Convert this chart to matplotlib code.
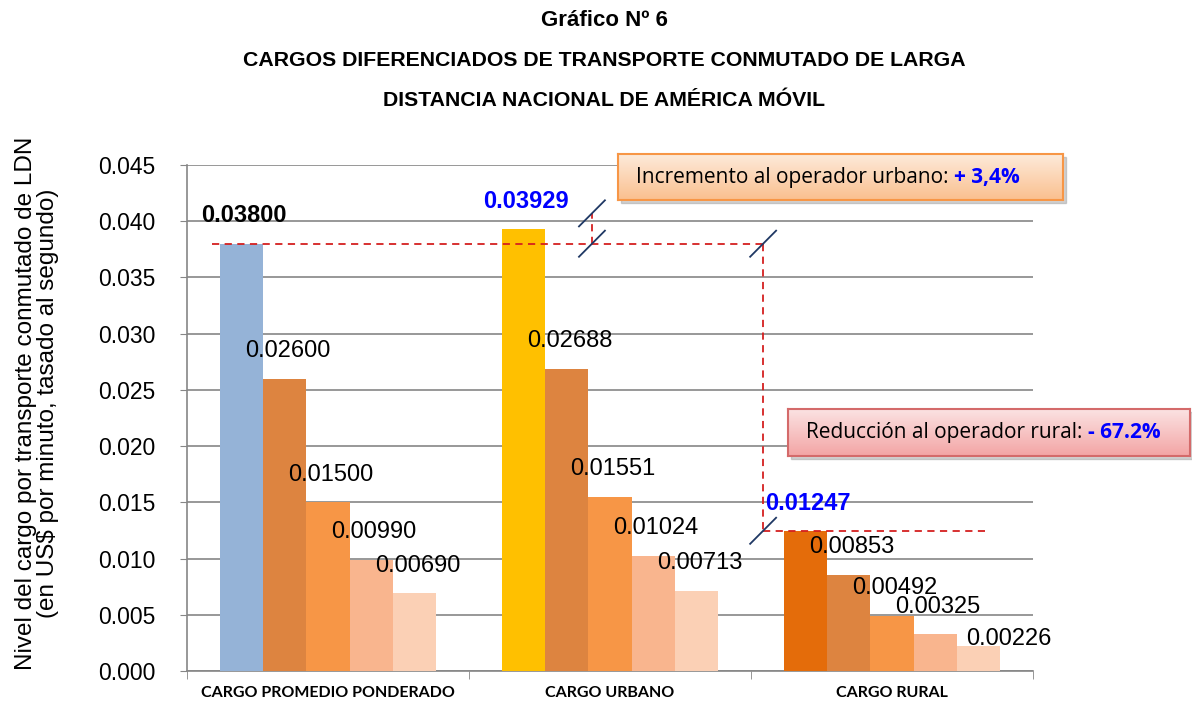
import numpy as np
import matplotlib.pyplot as plt
from matplotlib.patches import Rectangle

# datos
categorias = ['CARGO PROMEDIO PONDERADO', 'CARGO URBANO', 'CARGO RURAL']
promedio = [0.03800, 0.02600, 0.01500, 0.00990, 0.00690]
urbano = [0.03929, 0.02688, 0.01551, 0.01024, 0.00713]
rural = [0.01247, 0.00853, 0.00492, 0.00325, 0.00226]
series = [promedio, urbano, rural]
etiquetas = [['0.03800', '0.02600', '0.01500', '0.00990', '0.00690'],
             ['0.03929', '0.02688', '0.01551', '0.01024', '0.00713'],
             ['0.01247', '0.00853', '0.00492', '0.00325', '0.00226']]
y_ticks = [0.000, 0.005, 0.010, 0.015, 0.020, 0.025, 0.030, 0.035, 0.040, 0.045]

primer_color = ['#95B3D7', '#FFC000', '#E46C0A']
resto_colores = ['#DD8440', '#F79646', '#F9B58E', '#FBD0B5']

W, H = 1192, 704
fig = plt.figure(figsize=(W / 100, H / 100), dpi=100)
ax = fig.add_axes([187 / W, 1 - 671 / H, 846 / W, 506 / H])

ancho = 0.1535
for i, vals in enumerate(series):
    for j, v in enumerate(vals):
        x = i + (j - 2) * ancho
        c = primer_color[i] if j == 0 else resto_colores[j - 1]
        ax.bar(x, v, width=ancho, color=c, zorder=3)
        if j == 0 and i == 0:
            kw = dict(color='black', fontweight='bold')
        elif j == 0:
            kw = dict(color='#0000FF', fontweight='bold')
        else:
            kw = dict(color='black')
        off = (2, 20)
        if i == 2 and j == 4:
            off = (22, 5)  # Excel la desplaza para no pisar la anterior
        ax.annotate(etiquetas[i][j], (x, v), xytext=off, textcoords='offset points',
                    ha='center', va='center', fontsize=17, family='Liberation Sans', zorder=5, **kw)

ax.set_xlim(-0.5, 2.5)
ax.set_ylim(0, 0.045)
ax.set_yticks(y_ticks)
ax.set_yticklabels([f'{t:.3f}' for t in y_ticks], fontsize=16.5, family='Liberation Sans')
ax.yaxis.grid(True, color='#868686', lw=1.2, zorder=0)
ax.set_xticks([0, 1, 2])
ax.set_xticklabels(categorias, fontsize=11.5, fontweight='bold', family='Lato')
ax.set_xticks([-0.5, 0.5, 1.5, 2.5], minor=True)
ax.tick_params(axis='x', which='major', length=0, pad=11)
ax.tick_params(axis='x', which='minor', length=6, color='#868686')
ax.tick_params(axis='y', length=5, color='#868686', pad=18)
for s in ['top', 'right']:
    ax.spines[s].set_visible(False)
for s in ['left', 'bottom']:
    ax.spines[s].set_color('#868686')
    ax.spines[s].set_linewidth(1.2)

# lineas de referencia
rojo = '#D42020'
dash = dict(color=rojo, lw=1.3, ls=(0, (4, 3)), zorder=6)
ref = promedio[0]
ax.plot([-0.41, 1.543], [ref, ref], **dash)
ax.plot([0.936, 0.936], [ref, 0.0407], **dash)
ax.plot([1.543, 1.543], [ref, rural[0]], **dash)
ax.plot([1.543, 2.33], [rural[0], rural[0]], **dash)

dx, dy = 0.046, 0.00116
for cx, cy in [(0.936, 0.0407), (0.936, ref), (1.543, ref), (1.543, rural[0])]:
    ax.plot([cx - dx, cx + dx], [cy - dy, cy + dy], color='#1F3864', lw=1.3, zorder=7)


def caja(x0, y0, w, h, c_top, c_bot, borde, texto, valor):
    sombra = Rectangle(((x0 + 3) / W, 1 - (y0 + h + 3) / H), w / W, h / H,
                       transform=fig.transFigure, color='#999999', alpha=0.45, zorder=8)
    fig.add_artist(sombra)
    bx = fig.add_axes([x0 / W, 1 - (y0 + h) / H, w / W, h / H], zorder=9)
    top = np.array(plt.matplotlib.colors.to_rgb(c_top))
    bot = np.array(plt.matplotlib.colors.to_rgb(c_bot))
    t = np.linspace(0, 1, 50)[:, None]
    grad = (top * (1 - t) + bot * t)[:, None, :]
    bx.imshow(grad, aspect='auto', extent=(0, 1, 0, 1))
    bx.set_xticks([])
    bx.set_yticks([])
    for s in bx.spines.values():
        s.set_color(borde)
        s.set_linewidth(1.5)
    t1 = bx.text(18 / w, 0.5, texto, ha='left', va='center', fontsize=15, family='Open Sans')
    bx.annotate(valor, xy=(1, 0.5), xycoords=t1, ha='left', va='center',
                fontsize=15, family='Open Sans', fontweight='bold', color='#0000FF')


caja(618, 154, 445, 46, '#FDEADA', '#FAC08F', '#F79646',
     'Incremento al operador urbano: ', '+ 3,4%')
caja(788, 409, 402, 47, '#FBE2E2', '#F3A5A5', '#D46A6A',
     'Reducción al operador rural: ', '- 67.2%')

# titulos
fig.text(604 / W, 1 - 20 / H, 'Gráfico Nº 6', ha='center', va='center',
         fontsize=16, fontweight='bold', family='Liberation Sans')
fig.text(604 / W, 1 - 60 / H, 'CARGOS DIFERENCIADOS DE TRANSPORTE CONMUTADO DE LARGA',
         ha='center', va='center', fontsize=15.3, fontweight='bold', family='Liberation Sans')
fig.text(604 / W, 1 - 100 / H, 'DISTANCIA NACIONAL DE AMÉRICA MÓVIL',
         ha='center', va='center', fontsize=15.3, fontweight='bold', family='Liberation Sans')
fig.text(37 / W, 1 - 403 / H,
         'Nivel del cargo por transporte conmutado de LDN\n(en US$ por minuto, tasado al segundo)',
         ha='center', va='center', rotation=90, fontsize=17.5, family='Liberation Sans',
         multialignment='center', linespacing=1.0)

fig.savefig('out.png', dpi=100)
